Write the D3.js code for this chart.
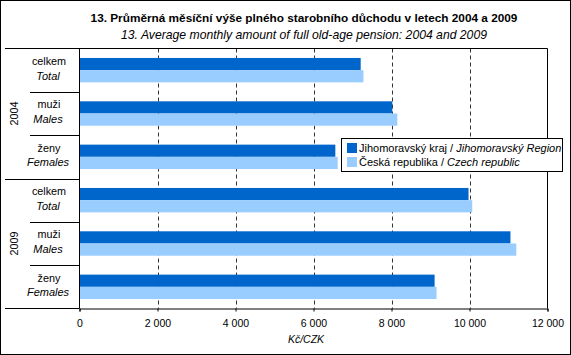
<!DOCTYPE html>
<html><head><meta charset="utf-8">
<script src="https://cdn.jsdelivr.net/npm/d3@7"></script>
<style>body{margin:0;background:#fff}svg{display:block;font-family:"Liberation Sans",Arial,sans-serif}</style>
</head><body><svg id="c" width="571" height="355"></svg>
<script>
const years = ["2004", "2009"];
const catsCz = ["celkem", "muži", "ženy"];
const catsEn = ["Total", "Males", "Females"];
const seriesCz = ["Jihomoravský kraj", "Česká republika"];
const seriesEn = ["Jihomoravský Region", "Czech republic"];
const jmk = [7210, 8020, 6560, 9975, 11050, 9105];
const cr  = [7280, 8150, 6620, 10070, 11200, 9155];
const ticks = [0, 2000, 4000, 6000, 8000, 10000, 12000];
const colors = ["#0066CC", "#99CCFF"];

(function () {
const svg = d3.select("#c");
const W = 571, H = 355;
const pL = 79.5, pR = 547.5, pT = 48.5, pB = 308.5;

const rows = [];
years.forEach((yv, yi) => catsCz.forEach((c, ci) => rows.push({id: yv + "-" + c, year: yv, cz: c, en: catsEn[ci], vals: [jmk[yi*3+ci], cr[yi*3+ci]]})));

const x = d3.scaleLinear().domain([0, 12000]).range([pL, pR]);
const y = d3.scaleBand().domain(rows.map(r => r.id)).range([pT, pB]).padding(0);
const bw = y.bandwidth();
const pairH = 24.4;
const ys = d3.scaleBand().domain([0, 1]).range([(bw - pairH) / 2, (bw + pairH) / 2]).padding(0);

svg.append("rect").attr("x", 0.5).attr("y", 0.5).attr("width", W - 1).attr("height", H - 1).attr("fill", "#fff").attr("stroke", "#000");

svg.append("text").attr("x", 304).attr("y", 22).attr("text-anchor", "middle").attr("font-weight", "bold").attr("font-size", 11.8).text("13. Průměrná měsíční výše plného starobního důchodu v letech 2004 a 2009");
svg.append("text").attr("x", 304).attr("y", 39).attr("text-anchor", "middle").attr("font-style", "italic").attr("font-size", 12.2).text("13. Average monthly amount of full old-age pension: 2004 and 2009");

svg.append("g").selectAll("line").data(ticks.filter(t => t > 0 && t < 12000)).join("line")
  .attr("x1", d => Math.round(x(d)) + 0.5).attr("x2", d => Math.round(x(d)) + 0.5)
  .attr("y1", pT).attr("y2", pB).attr("stroke", "#333").attr("stroke-dasharray", "4,3");

const g = svg.append("g");
rows.forEach(r => {
  r.vals.forEach((v, i) => {
    g.append("rect").attr("x", x(0)).attr("y", y(r.id) + ys(i)).attr("width", x(v) - x(0)).attr("height", ys.bandwidth()).attr("fill", colors[i]);
  });
});

const fr = svg.append("g").attr("stroke", "#000").attr("fill", "none");
fr.append("line").attr("x1", 5).attr("x2", pR).attr("y1", pT).attr("y2", pT);
fr.append("line").attr("x1", pR).attr("x2", pR).attr("y1", pT).attr("y2", pB);
fr.append("line").attr("x1", pL).attr("x2", pL).attr("y1", pT).attr("y2", pB);
fr.append("line").attr("x1", 5).attr("x2", pL).attr("y1", pB).attr("y2", pB);
rows.forEach((r, i) => {
  if (i === 0) return;
  const yy = Math.round(y(r.id)) + 0.5;
  fr.append("line").attr("x1", i % 3 === 0 ? 5 : 30).attr("x2", pL).attr("y1", yy).attr("y2", yy);
});

const ax = svg.append("g").attr("transform", `translate(0,${pB})`)
  .call(d3.axisBottom(x).tickValues(ticks).tickSize(3).tickPadding(8).tickFormat(d => d3.format(",")(d).replace(/,/g, " ")));
ax.select(".domain").attr("stroke", "#000");
ax.selectAll("line").attr("stroke", "#000");
ax.selectAll("text").attr("font-size", 10.5).attr("font-family", "Liberation Sans, Arial, sans-serif").attr("fill", "#000");
svg.append("text").attr("x", 306).attr("y", 343).attr("text-anchor", "middle").attr("font-style", "italic").attr("font-size", 10.5).text("Kč/CZK");

rows.forEach(r => {
  const cy = y(r.id) + bw / 2;
  svg.append("text").attr("x", 49).attr("y", cy - 5.3).attr("text-anchor", "middle").attr("font-size", 10.8).text(r.cz);
  svg.append("text").attr("x", 48).attr("y", cy + 9.6).attr("text-anchor", "middle").attr("font-size", 11).attr("font-style", "italic").text(r.en);
});
years.forEach((yr) => {
  const ids = rows.filter(r => r.year === yr).map(r => r.id);
  const cy = (y(ids[0]) + y(ids[2]) + bw) / 2;
  svg.append("text").attr("transform", `translate(18,${cy}) rotate(-90)`).attr("text-anchor", "middle").attr("font-size", 10.8).text(yr);
});

const lg = svg.append("g");
lg.append("rect").attr("x", 341.5).attr("y", 138.5).attr("width", 221).attr("height", 33).attr("fill", "#fff").attr("stroke", "#000");
seriesCz.forEach((s, i) => {
  const ly = 143 + i * 14;
  lg.append("rect").attr("x", 347).attr("y", ly).attr("width", 10).attr("height", 10).attr("fill", colors[i]);
  const t = lg.append("text").attr("x", 359).attr("y", ly + 9).attr("font-size", 11);
  t.append("tspan").text(s + " / ");
  t.append("tspan").attr("font-style", "italic").text(seriesEn[i]);
});
})();
</script></body></html>
